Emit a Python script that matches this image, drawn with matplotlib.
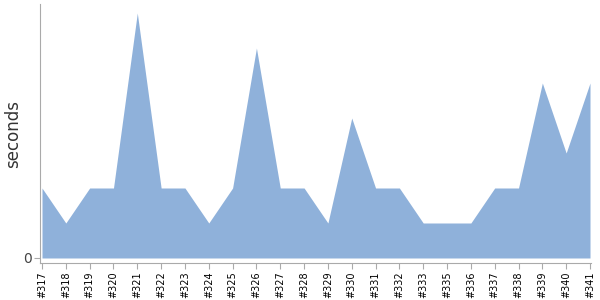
import matplotlib
matplotlib.use("Agg")
import matplotlib.pyplot as plt
import numpy as np

builds = ["#317", "#318", "#319", "#320", "#321", "#322", "#323", "#324",
          "#325", "#326", "#327", "#328", "#329", "#330", "#331", "#332",
          "#333", "#335", "#336", "#337", "#338", "#339", "#340", "#341"]
seconds = [2, 1, 2, 2, 7, 2, 2, 1, 2, 6, 2, 2, 1, 4, 2, 2, 1, 1, 1, 2, 2, 5, 3, 5]

fig = plt.figure(figsize=(6, 3), dpi=100)
ax = fig.add_axes([40/600, 1 - 263/300, 551/600, 259/300])

x = np.arange(len(builds))
ax.fill_between(x, 0, seconds, color="#8fb1da", lw=0)

ax.set_xlim(-0.084, len(builds) - 1 + 0.042)
ax.set_ylim(-0.143, 7.257)

ax.set_xticks(x)
ax.set_xticklabels(builds, rotation=90, fontsize=7, color="black")
ax.set_yticks([0])
ax.set_yticklabels(["0"], fontsize=10, color="#444444")
ax.tick_params(axis="both", color="#aaaaaa", length=4, width=0.8, pad=2)
ax.set_ylabel("seconds", fontsize=12, color="#333333")
ax.yaxis.set_label_coords(-0.033, 0.5)

for s in ("top", "right"):
    ax.spines[s].set_visible(False)
for s in ("left", "bottom"):
    ax.spines[s].set_color("#aaaaaa")
    ax.spines[s].set_linewidth(0.8)

fig.savefig("out.png", dpi=100, facecolor="white")
